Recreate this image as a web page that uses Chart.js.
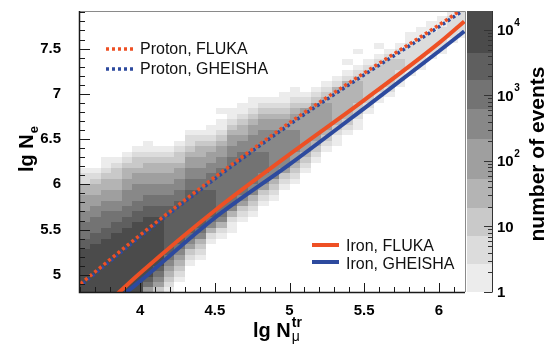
<!DOCTYPE html>
<html>
<head>
<meta charset="utf-8">
<script src="https://cdn.jsdelivr.net/npm/chart.js@4.4.1/dist/chart.umd.min.js"></script>
<style>
  body { margin: 0; background: #fff; }
</style>
</head>
<body>
<canvas id="myChart" width="551" height="346"></canvas>
<script>
// binning of the 2d histogram (lg Nmu_tr vs lg Ne)
const xBinStart = 3.594;
const xBinWidth = 0.0703;
const yBinStart = 4.8;
const yBinWidth = 0.06;

// per x column: first filled row, then the colour level of each row going up (0 = empty)
const heatStartRow = [0, 0, 0, 0, 0, 0, 0, 0, 0, 2, 5, 6, 9, 10, 11, 13, 14, 16, 17,
  19, 20, 22, 24, 26, 27, 29, 30, 33, 35, 36, 38, 40, 41, 43, 44, 46, 47];
const heatLevels = [
  "99999999887776655544221",
  "99999999988777665544321",
  "9999999999887776655443211",
  "9999999999988776655443321",
  "99999999999988776665544321",
  "999999999999988776665543321",
  "5789999999999988776655443211",
  "356789999999998877665544321",
  "123456788888888877665544321",
  "12345678888888877665543321",
  "1235678888888877665543221",
  "123467888888877665544321",
  "1246788888777665543211",
  "124677777777766554321101",
  "11246777777777665543211",
  "1235677777777665443211",
  "1234667777776665543211",
  "12356677776666554321",
  "1234666666666554321",
  "123566666665543211",
  "123455666655543211",
  "123455555555321",
  "12345555555321",
  "1234555554321",
  "1123444444421",
  "12344444442101",
  "112334444321001",
  "1233333321",
  "12333332101",
  "123333321",
  "12233221",
  "12222211",
  "12222211",
  "1222211",
  "1222211",
  "122221",
  "12222"
];

// colour scale: number of events
const bandEdges = [1, 2.65, 7.2, 19.4, 52.6, 220, 617, 1726, 4520, 19500];
const bandColors = ["#ececec", "#dcdcdc", "#c9c9c9", "#b4b4b4", "#9f9f9f",
  "#888888", "#737373", "#5f5f5f", "#4b4b4b"];
const cbarTicks = [1, 10, 100, 1000, 10000];
const cbarTickLabels = [["1", ""], ["10", ""], ["10", "2"], ["10", "3"], ["10", "4"]];

// mean lg Ne vs lg Nmu_tr
const protonX = [3.6, 4.0, 4.5, 5.0, 5.5, 6.0, 6.17];
const protonFluka = [4.90, 5.44, 6.08, 6.68, 7.23, 7.76, 7.95];
const protonGheisha = [4.88, 5.42, 6.06, 6.66, 7.21, 7.74, 7.93];
const ironFlukaX = [3.84, 4.0, 4.5, 5.0, 5.5, 6.0, 6.17];
const ironFluka = [4.78, 5.02, 5.71, 6.33, 6.93, 7.56, 7.80];
const ironGheishaX = [3.895, 4.0, 4.5, 5.0, 5.5, 6.0, 6.17];
const ironGheisha = [4.79, 4.93, 5.63, 6.22, 6.84, 7.47, 7.69];

const xTickValues = [4, 4.5, 5, 5.5, 6];
const yTickValues = [5, 5.5, 6, 6.5, 7, 7.5];

const ORANGE = "#ee5024";
const BLUE = "#2d4a9e";
const FONT = "'Liberation Sans', Arial, Helvetica, sans-serif";

function pts(xs, ys) {
  return xs.map((x, i) => ({ x: x, y: ys[i] }));
}

const data = {
  datasets: [
    { label: "Proton, FLUKA", data: pts(protonX, protonFluka), borderColor: ORANGE,
      borderWidth: 3.5, borderDash: [3, 3] },
    { label: "Proton, GHEISHA", data: pts(protonX, protonGheisha), borderColor: BLUE,
      borderWidth: 3.5, borderDash: [3, 3], borderDashOffset: 3 },
    { label: "Iron, FLUKA", data: pts(ironFlukaX, ironFluka), borderColor: ORANGE,
      borderWidth: 4 },
    { label: "Iron, GHEISHA", data: pts(ironGheishaX, ironGheisha), borderColor: BLUE,
      borderWidth: 4 },
  ],
};

// grey 2d histogram below the lines
const heatmapPlugin = {
  id: "heatmap",
  beforeDatasetsDraw(chart) {
    const { ctx, chartArea: a, scales: { x, y } } = chart;
    ctx.save();
    ctx.beginPath();
    ctx.rect(a.left, a.top, a.right - a.left, a.bottom - a.top);
    ctx.clip();
    heatLevels.forEach((col, c) => {
      const x0 = Math.round(x.getPixelForValue(xBinStart + c * xBinWidth));
      const x1 = Math.round(x.getPixelForValue(xBinStart + (c + 1) * xBinWidth));
      for (let i = 0; i < col.length; i++) {
        const lvl = +col[i];
        if (!lvl) continue;
        const r = heatStartRow[c] + i;
        const y0 = Math.round(y.getPixelForValue(yBinStart + r * yBinWidth));
        const y1 = Math.round(y.getPixelForValue(yBinStart + (r + 1) * yBinWidth));
        ctx.fillStyle = bandColors[lvl - 1];
        ctx.fillRect(x0, y1, x1 - x0, y0 - y1);
      }
    });
    ctx.restore();
  },
};

function sampleLine(ctx, ds, x0, x1, y) {
  ctx.save();
  ctx.strokeStyle = ds.borderColor;
  ctx.lineWidth = ds.borderWidth;
  ctx.setLineDash(ds.borderDash || []);
  ctx.lineDashOffset = 0;
  ctx.beginPath();
  ctx.moveTo(x0, y);
  ctx.lineTo(x1, y);
  ctx.stroke();
  ctx.restore();
}

// frame, inner ticks, legends, axis titles and the colour bar
const decorPlugin = {
  id: "decor",
  afterDraw(chart) {
    const { ctx, chartArea: a, scales: { x, y, cbar } } = chart;
    ctx.save();

    // frame
    ctx.strokeStyle = "#8a8a8a";
    ctx.lineWidth = 1;
    ctx.beginPath();
    ctx.moveTo(a.left, a.top + 0.5);
    ctx.lineTo(a.right + 0.5, a.top + 0.5);
    ctx.lineTo(a.right + 0.5, a.bottom);
    ctx.stroke();
    ctx.strokeStyle = "#1a1a1a";
    ctx.lineWidth = 1.5;
    ctx.beginPath();
    ctx.moveTo(a.left + 0.5, a.top);
    ctx.lineTo(a.left + 0.5, a.bottom + 0.5);
    ctx.lineTo(a.right, a.bottom + 0.5);
    ctx.stroke();

    // ticks pointing inside
    ctx.lineWidth = 1;
    ctx.beginPath();
    for (let k = 49; k <= 79; k++) {
      const py = Math.round(y.getPixelForValue(k / 10)) + 0.5;
      const len = k % 5 === 0 ? 11 : 6;
      ctx.moveTo(a.left, py);
      ctx.lineTo(a.left + len, py);
    }
    for (let k = 36; k <= 61; k++) {
      const px = Math.round(x.getPixelForValue(k / 10)) + 0.5;
      const len = k % 5 === 0 ? 9 : 5;
      ctx.moveTo(px, a.bottom);
      ctx.lineTo(px, a.bottom - len);
    }
    ctx.stroke();

    // legends
    const dsets = chart.data.datasets;
    ctx.fillStyle = "#111";
    ctx.font = "16px " + FONT;
    ctx.textBaseline = "alphabetic";
    sampleLine(ctx, dsets[0], 106, 134, 49);
    sampleLine(ctx, dsets[1], 106, 134, 69);
    ctx.fillText(dsets[0].label, 140, 54);
    ctx.fillText(dsets[1].label, 140, 74);
    sampleLine(ctx, dsets[2], 312, 339, 245);
    sampleLine(ctx, dsets[3], 312, 339, 262);
    ctx.fillText(dsets[2].label, 346, 251);
    ctx.fillText(dsets[3].label, 346, 269);

    // axis titles
    ctx.fillStyle = "#000";
    ctx.font = "bold 20px " + FONT;
    ctx.fillText("lg N", 253, 337);
    const wx = ctx.measureText("lg N").width;
    ctx.font = "bold 14px " + FONT;
    ctx.fillText("tr", 253 + wx + 1, 327);
    ctx.font = "14px " + FONT;
    ctx.fillText("\u03bc", 253 + wx + 1, 341);

    ctx.save();
    ctx.translate(33, 172);
    ctx.rotate(-Math.PI / 2);
    ctx.font = "bold 20px " + FONT;
    ctx.fillText("lg N", 0, 0);
    const wy = ctx.measureText("lg N").width;
    ctx.font = "bold 13px " + FONT;
    ctx.fillText("e", wy + 1, 5);
    ctx.restore();

    // colour bar
    const bl = 467, br = 492;
    for (let i = 0; i < bandColors.length; i++) {
      const t = Math.round(cbar.getPixelForValue(bandEdges[i + 1]));
      const b = Math.round(cbar.getPixelForValue(bandEdges[i]));
      ctx.fillStyle = bandColors[i];
      ctx.fillRect(bl, t, br - bl, b - t);
    }
    ctx.strokeStyle = "#333";
    ctx.lineWidth = 1;
    ctx.beginPath();
    ctx.moveTo(br + 0.5, a.top);
    ctx.lineTo(br + 0.5, a.bottom + 0.5);
    for (let d = 0; d <= 4; d++) {
      for (let m = 1; m <= 9; m++) {
        const v = m * Math.pow(10, d);
        if (v > bandEdges[bandEdges.length - 1]) break;
        const py = Math.round(cbar.getPixelForValue(v)) + 0.5;
        ctx.moveTo(br, py);
        ctx.lineTo(br - (m === 1 ? 8 : 4), py);
      }
    }
    ctx.stroke();

    ctx.fillStyle = "#000";
    ctx.textBaseline = "middle";
    cbarTicks.forEach((v, i) => {
      const py = cbar.getPixelForValue(v);
      const [base, exp] = cbarTickLabels[i];
      ctx.font = "bold 15px " + FONT;
      ctx.fillText(base, 497, py + 1);
      if (exp) {
        const w = ctx.measureText(base).width;
        ctx.font = "bold 10px " + FONT;
        ctx.fillText(exp, 497 + w + 0.5, py - 7);
      }
    });

    ctx.save();
    ctx.translate(544, 154);
    ctx.rotate(-Math.PI / 2);
    ctx.textAlign = "center";
    ctx.textBaseline = "alphabetic";
    ctx.font = "bold 21px " + FONT;
    ctx.fillText("number of events", 0, 0);
    ctx.restore();

    ctx.restore();
  },
};

const config = {
  type: "line",
  data: data,
  options: {
    responsive: false,
    animation: false,
    layout: { padding: { left: 0, top: 11, right: 86, bottom: 0 } },
    elements: { point: { radius: 0 }, line: { cubicInterpolationMode: "monotone" } },
    plugins: {
      legend: { display: false },
      tooltip: { enabled: false },
    },
    scales: {
      x: {
        type: "linear",
        min: 3.59,
        max: 6.175,
        grid: { display: false },
        border: { display: false },
        afterBuildTicks: (s) => { s.ticks = xTickValues.map((v) => ({ value: v })); },
        afterFit: (s) => { s.height = 54; s.paddingLeft = 0; s.paddingRight = 0; },
        ticks: {
          padding: 2,
          color: "#000",
          font: { family: FONT, size: 15, weight: "bold" },
          callback: (v) => String(v),
        },
      },
      y: {
        type: "linear",
        min: 4.81,
        max: 7.915,
        grid: { display: false },
        border: { display: false },
        afterBuildTicks: (s) => { s.ticks = yTickValues.map((v) => ({ value: v })); },
        afterFit: (s) => { s.width = 79; s.paddingTop = 0; s.paddingBottom = 0; },
        ticks: {
          padding: 10,
          color: "#000",
          font: { family: FONT, size: 15, weight: "bold" },
          callback: (v) => String(v),
        },
      },
      cbar: {
        type: "logarithmic",
        axis: "y",
        position: "right",
        display: false,
        min: bandEdges[0],
        max: bandEdges[bandEdges.length - 1],
      },
    },
  },
  plugins: [heatmapPlugin, decorPlugin],
};

window.onload = function () {
  const ctx = document.getElementById("myChart").getContext("2d");
  const myChart = new Chart(ctx, config);
};
</script>
</body>
</html>
